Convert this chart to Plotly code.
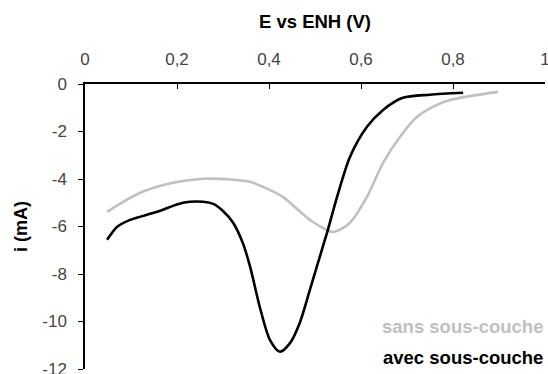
import plotly.graph_objects as go

# Data
E_avec = [0.048, 0.070, 0.098, 0.157, 0.213, 0.257, 0.280, 0.300, 0.322, 0.343, 0.359, 0.380,
          0.402, 0.424, 0.446, 0.467, 0.489, 0.517, 0.528, 0.548, 0.576, 0.613, 0.648,
          0.691, 0.750, 0.822]
i_avec = [-6.56, -6.01, -5.72, -5.38, -5.00, -4.96, -5.06, -5.35, -5.84, -6.69, -7.70, -9.39,
          -10.77, -11.27, -10.90, -10.05, -8.66, -6.85, -6.14, -4.75, -3.07, -1.80, -1.09,
          -0.58, -0.45, -0.37]

E_sans = [0.048, 0.120, 0.191, 0.257, 0.322, 0.359, 0.387, 0.430, 0.489, 0.539, 0.576,
          0.613, 0.648, 0.685, 0.722, 0.765, 0.793, 0.898]
i_sans = [-5.38, -4.58, -4.16, -3.99, -4.03, -4.12, -4.33, -4.75, -5.72, -6.23, -5.84,
          -4.75, -3.32, -2.22, -1.38, -0.88, -0.67, -0.33]

x_tickvals = [0, 0.2, 0.4, 0.6, 0.8, 1]
x_ticktext = ["0", "0,2", "0,4", "0,6", "0,8", "1"]
y_tickvals = [0, -2, -4, -6, -8, -10, -12]
y_ticktext = ["0", "-2", "-4", "-6", "-8", "-10", "-12"]

names = ["sans sous-couche", "avec sous-couche"]
colors = ["#c0c0c0", "#000000"]
label_y = [-10.2, -11.5]

fig = go.Figure()
fig.add_trace(go.Scatter(x=E_sans, y=i_sans, mode="lines", name=names[0],
                         line=dict(color=colors[0], width=2.6, shape="spline", smoothing=0.8)))
fig.add_trace(go.Scatter(x=E_avec, y=i_avec, mode="lines", name=names[1],
                         line=dict(color=colors[1], width=2.6, shape="spline", smoothing=0.8)))

for nm, c, ly in zip(names, colors, label_y):
    fig.add_annotation(x=1, y=ly, xref="x", yref="y", text="<b>%s</b>" % nm,
                       showarrow=False, xanchor="right", yanchor="middle",
                       font=dict(family="Liberation Sans, Arial", size=18.5, color=c))

fig.update_layout(
    width=548, height=374,
    margin=dict(l=85, r=3, t=84, b=5),
    paper_bgcolor="white", plot_bgcolor="white",
    showlegend=False,
    font=dict(family="Liberation Sans, Arial", color="#333333"),
    xaxis=dict(side="top", range=[0, 1], tickvals=x_tickvals, ticktext=x_ticktext,
               ticks="inside", ticklen=5, tickcolor="black", showline=True, linecolor="black",
               linewidth=1.5, showgrid=False, zeroline=False, automargin=False,
               ticklabeloverflow="allow",
               tickfont=dict(size=17, color="#444444"), ticklabelstandoff=10,
               title=dict(text="<b>E vs ENH (V)</b>", font=dict(size=18.5, color="black"), standoff=17)),
    yaxis=dict(range=[-12, 0], tickvals=y_tickvals, ticktext=y_ticktext,
               ticks="outside", ticklen=5, tickcolor="black", showline=True, linecolor="black",
               linewidth=1.5, showgrid=False, zeroline=False, automargin=False,
               ticklabeloverflow="allow",
               tickfont=dict(size=17, color="#444444"), ticklabelstandoff=8,
               title=dict(text="<b>i (mA)</b>", font=dict(size=18, color="black"), standoff=10)),
)

fig.write_html("out.html", config={"displayModeBar": False},
               post_script="document.body.style.margin='0';document.body.style.overflow='hidden';")
